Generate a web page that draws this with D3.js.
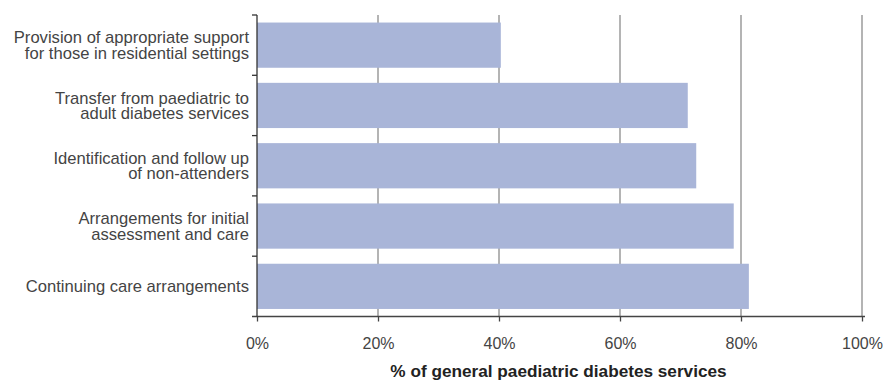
<!DOCTYPE html>
<html><head><meta charset="utf-8">
<script src="https://cdn.jsdelivr.net/npm/d3@7"></script>
<style>body{margin:0;background:#fff}svg{display:block}text{font-family:"Liberation Sans",Arial,sans-serif}</style>
</head><body><svg id="c" width="883" height="381"></svg>
<script>
const categories = [
  ["Provision of appropriate support", "for those in residential settings"],
  ["Transfer from paediatric to", "adult diabetes services"],
  ["Identification and follow up", "of non-attenders"],
  ["Arrangements for initial", "assessment and care"],
  ["Continuing care arrangements"]
];
const values = [40.3, 71.2, 72.6, 78.8, 81.3];
const xTicks = [0, 20, 40, 60, 80, 100];
const xTitle = "% of general paediatric diabetes services";

(function () {
const svg = d3.select("#c");
const mLeft = 257, mRight = 862, mTop = 15, mBottom = 316.5;
const x = d3.scaleLinear().domain([0, 100]).range([mLeft, mRight]);
const y = d3.scaleBand().domain(d3.range(categories.length)).range([mTop, mBottom]).paddingInner(0.25).paddingOuter(0.125);

// gridlines
svg.append("g").selectAll("line").data(xTicks.filter(d => d > 0)).join("line")
  .attr("x1", d => x(d)).attr("x2", d => x(d)).attr("y1", mTop).attr("y2", mBottom)
  .attr("stroke", "#8c8c8c").attr("stroke-width", 1.3);

// bars
svg.append("g").selectAll("rect").data(values).join("rect")
  .attr("x", x(0)).attr("y", (d, i) => y(i)).attr("width", d => x(d) - x(0)).attr("height", y.bandwidth())
  .attr("fill", "#a9b5d8");

// x axis
const xa = svg.append("g").attr("transform", `translate(0,${mBottom})`)
  .call(d3.axisBottom(x).tickValues(xTicks).tickFormat(d => d + "%").tickSize(5).tickSizeOuter(0));
xa.select(".domain").attr("d", `M${mLeft - 5},0H${mRight + 3}`).attr("stroke", "#444").attr("stroke-width", 1.3);
xa.selectAll(".tick line").attr("stroke", "#444").attr("stroke-width", 1.3);
xa.selectAll(".tick text").attr("y", 21).attr("fill", "#444").attr("font-size", 16).attr("font-family", "Liberation Sans, Arial, sans-serif");

// y axis line and band ticks
const g = svg.append("g");
g.append("line").attr("x1", mLeft).attr("x2", mLeft).attr("y1", mTop).attr("y2", mBottom).attr("stroke", "#333").attr("stroke-width", 1.3);
g.selectAll("line.t").data(d3.range(categories.length)).join("line").attr("class", "t")
  .attr("x1", mLeft - 5).attr("x2", mLeft)
  .attr("y1", i => mTop + i * y.step()).attr("y2", i => mTop + i * y.step())
  .attr("stroke", "#333").attr("stroke-width", 1.3);

// category labels
const lh = 15.5;
const labels = svg.append("g").selectAll("text").data(categories).join("text")
  .attr("text-anchor", "end").attr("fill", "#444").attr("font-size", 16.6)
  .attr("transform", (d, i) => `translate(${mLeft - 8},${y(i) + y.bandwidth() / 2})`);
labels.each(function(lines) {
  const t = d3.select(this);
  lines.forEach((s, j) => {
    t.append("tspan").attr("x", 0).attr("y", (j - (lines.length - 1) / 2) * lh).attr("dy", "0.35em").text(s);
  });
});

// x title
svg.append("text").attr("x", (mLeft + mRight) / 2 - 1).attr("y", 377).attr("text-anchor", "middle")
  .attr("font-weight", "bold").attr("font-size", 17.2).attr("fill", "#222").text(xTitle);
})();
</script></body></html>
